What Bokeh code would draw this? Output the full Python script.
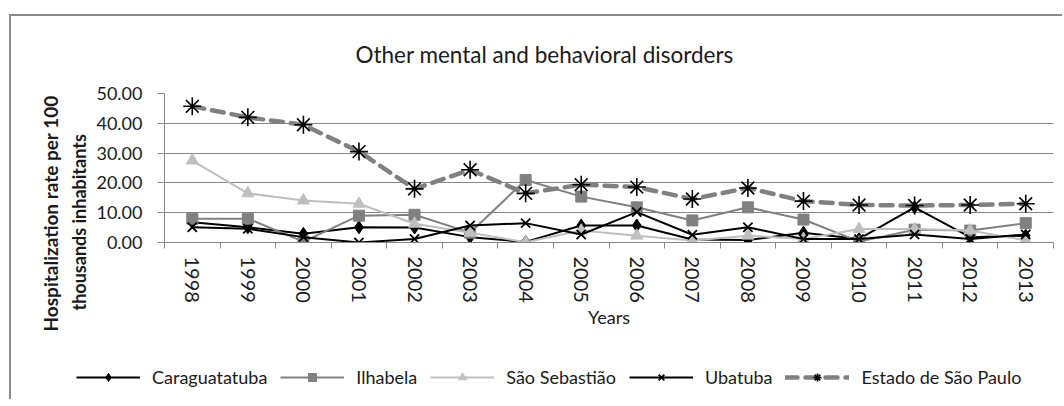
import math
from bokeh.plotting import figure
from bokeh.models import (Range1d, FixedTicker, Legend, LegendItem, Title)
from bokeh.embed import file_html
from bokeh.resources import INLINE

years = [1998, 1999, 2000, 2001, 2002, 2003, 2004, 2005, 2006, 2007, 2008, 2009, 2010, 2011, 2012, 2013]
caraguatatuba = [6.8, 5.1, 2.9, 5.1, 5.0, 1.8, 0.2, 5.7, 5.7, 1.0, 0.8, 3.3, 1.2, 11.8, 1.8, 2.3]
ilhabela = [8.0, 8.0, 0.3, 9.0, 9.3, 3.3, 21.0, 15.4, 11.8, 7.4, 11.8, 7.7, 0.3, 4.3, 4.0, 6.5]
sao_sebastiao = [27.5, 16.5, 14.1, 13.0, 6.3, 3.3, 0.1, 4.0, 2.3, 0.7, 2.3, 1.2, 4.5, 4.5, 4.0, 0.7]
ubatuba = [5.1, 4.6, 1.8, 0.0, 1.2, 5.7, 6.5, 2.7, 10.2, 2.6, 5.1, 1.2, 1.2, 2.7, 1.2, 2.7]
estado_sp = [45.7, 42.0, 39.5, 30.5, 18.0, 24.4, 16.5, 19.4, 18.6, 14.6, 18.3, 13.9, 12.6, 12.4, 12.6, 13.0]
y_ticks = [0, 10, 20, 30, 40, 50]
series_names = ["Caraguatatuba", "Ilhabela", "São Sebastião", "Ubatuba", "Estado de São Paulo"]
series_values = [caraguatatuba, ilhabela, sao_sebastiao, ubatuba, estado_sp]

FONT = "Lato"
GRAY = "#868686"
TXT = "#1a1a1a"
BORDER = "2px solid #8a8a8a"

styles = [
    dict(line=dict(line_color="black", line_width=2),
         marker=dict(marker="diamond", size=13, fill_color="black", line_color="black")),
    dict(line=dict(line_color="#808080", line_width=2),
         marker=dict(marker="square", size=11, fill_color="#808080", line_color="#808080")),
    dict(line=dict(line_color="#bfbfbf", line_width=2),
         marker=dict(marker="triangle", size=12, fill_color="#bfbfbf", line_color="#bfbfbf")),
    dict(line=dict(line_color="black", line_width=2),
         marker=dict(marker="x", size=13, line_color="black", line_width=1.8)),
    dict(line=dict(line_color="#808080", line_width=4.5, line_dash="12 8", line_cap="round"),
         marker=dict(marker="asterisk", size=18, line_color="black", line_width=1.6)),
]

p = figure(width=1053, height=335, output_backend="svg", toolbar_location=None,
           x_range=Range1d(years[0] - 0.5, years[-1] + 0.5), y_range=Range1d(0, 50),
           min_border_left=153, min_border_right=11, min_border_top=77, min_border_bottom=109)
p.margin = (14, 0, 0, 9)
p.styles = {"border-left": BORDER, "border-top": BORDER}
p.outline_line_color = None
p.background_fill_color = "white"
p.border_fill_color = "white"

p.title.text = "Other mental and behavioral disorders"
p.title.align = "left"
p.title.offset = 191
p.title.vertical_align = "top"
p.title.text_font = FONT
p.title.text_font_size = "22.5px"
p.title.text_font_style = "normal"
p.title.text_color = TXT
p.title.standoff = 48

# y axis
yax = p.yaxis[0]
yax.ticker = FixedTicker(ticks=y_ticks)
yax.major_label_overrides = {t: f"{t:.2f}" for t in y_ticks}
yax.major_tick_out = 7
yax.major_tick_in = 0
yax.minor_tick_out = 0
yax.minor_tick_in = 0
yax.axis_line_color = GRAY
yax.major_tick_line_color = GRAY
yax.major_label_text_font = FONT
yax.major_label_text_font_size = "18px"
yax.major_label_text_color = TXT
yax.major_label_standoff = 15

t_line2 = Title(text="thousands inhabitants", align="left", offset=-68, text_font=FONT,
                text_font_size="18px", text_font_style="bold", text_color=TXT, standoff=8)
t_line1 = Title(text="Hospitalization rate per 100", align="left", offset=-89, text_font=FONT,
                text_font_size="19px", text_font_style="bold", text_color=TXT, standoff=0)
p.add_layout(t_line2, "left")
p.add_layout(t_line1, "left")

# x axis
xax = p.xaxis[0]
xax.ticker = FixedTicker(ticks=years, minor_ticks=[y - 0.5 for y in years] + [years[-1] + 0.5])
xax.major_tick_out = 0
xax.major_tick_in = 0
xax.minor_tick_out = 6
xax.minor_tick_in = 0
xax.minor_tick_line_color = GRAY
xax.axis_line_color = GRAY
xax.major_label_orientation = -math.pi / 2
xax.major_label_text_font = FONT
xax.major_label_text_font_size = "20px"
xax.major_label_text_color = TXT
xax.major_label_standoff = 8
xax.axis_label = "Years"
xax.axis_label_text_font = FONT
xax.axis_label_text_font_size = "18px"
xax.axis_label_text_font_style = "normal"
xax.axis_label_text_color = TXT
xax.axis_label_standoff = 0

p.xgrid.grid_line_color = None
p.ygrid.grid_line_color = GRAY
p.ygrid.grid_line_width = 1.2
p.ygrid.ticker = FixedTicker(ticks=y_ticks)

for vals, st in zip(series_values, styles):
    p.line(years, vals, **st["line"])
    p.scatter(years, vals, **st["marker"])

# legend strip (the same series, drawn out of view, so only the legend shows)
lf = figure(width=1053, height=50, output_backend="svg", toolbar_location=None,
            x_range=Range1d(0, 1), y_range=Range1d(1000, 1001),
            x_axis_location=None, y_axis_location=None,
            min_border_left=0, min_border_right=0, min_border_top=0, min_border_bottom=0)
lf.margin = (0, 0, 0, 9)
lf.styles = {"border-left": BORDER}
lf.grid.visible = False
lf.outline_line_color = None
lf.background_fill_color = "white"
lf.border_fill_color = "white"

items = []
for name, vals, st in zip(series_names, series_values, styles):
    lr = lf.line(years, vals, **st["line"])
    mr = lf.scatter(years, vals, **st["marker"])
    items.append(LegendItem(label=name, renderers=[lr, mr]))

legend = Legend(items=items, orientation="horizontal", location=(65, 11))
legend.border_line_color = None
legend.background_fill_alpha = 0
legend.padding = 0
legend.margin = 0
legend.spacing = 13
legend.glyph_width = 64
legend.glyph_height = 20
legend.label_standoff = 12
legend.label_text_font = FONT
legend.label_text_font_size = "18px"
legend.label_text_color = TXT
lf.add_layout(legend, "center")

open("out.html", "w").write(file_html([p, lf], INLINE))
